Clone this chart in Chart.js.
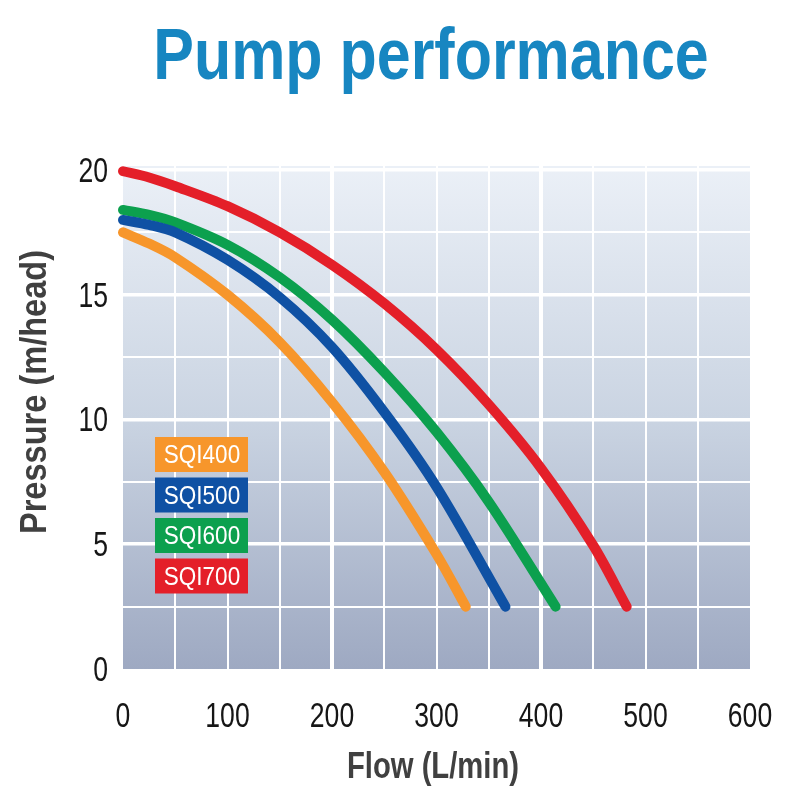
<!DOCTYPE html>
<html>
<head>
<meta charset="utf-8">
<script src="https://cdn.jsdelivr.net/npm/chart.js@4"></script>
<style>
  body { margin: 0; background: #fff; }
  #wrap { width: 800px; height: 800px; position: relative; }
</style>
</head>
<body>
<div id="wrap"><canvas id="chartPump"></canvas></div>
<script>
const models = ['SQI400', 'SQI500', 'SQI600', 'SQI700'];
const colors = ['#f7962b', '#0f51a4', '#0ca04e', '#e41f29'];

const flow400 = [0, 25, 50, 100, 150, 200, 250, 300, 328];
const head400 = [17.5, 17.05, 16.5, 15.0, 13.1, 10.7, 7.9, 4.6, 2.5];
const flow500 = [0, 25, 50, 100, 150, 200, 250, 300, 366];
const head500 = [18.0, 17.8, 17.5, 16.4, 14.9, 12.9, 10.3, 7.3, 2.5];
const flow600 = [0, 25, 50, 100, 150, 200, 250, 300, 350, 414];
const head600 = [18.4, 18.2, 17.9, 17.0, 15.7, 14.0, 11.9, 9.5, 6.7, 2.5];
const flow700 = [0, 25, 50, 100, 150, 200, 250, 300, 350, 400, 450, 482];
const head700 = [19.95, 19.7, 19.35, 18.55, 17.5, 16.2, 14.65, 12.8, 10.6, 8.05, 4.95, 2.5];

const xGrid = [0, 50, 100, 150, 200, 250, 300, 350, 400, 450, 500, 550, 600];
const yGrid = [0, 2.5, 5, 7.5, 10, 12.5, 15, 17.5, 20];
const xLabels = [0, 100, 200, 300, 400, 500, 600];
const yLabels = [0, 5, 10, 15, 20];

const titleText = 'Pump performance';
const xTitle = 'Flow (L/min)';
const yTitle = 'Pressure (m/head)';

const sans = "'Liberation Sans', Arial, sans-serif";

function pts(xs, ys) {
    return xs.map((x, i) => ({ x: x, y: ys[i] }));
}

const series = [pts(flow400, head400), pts(flow500, head500), pts(flow600, head600), pts(flow700, head700)];

// condensed look: draw Liberation Sans squeezed horizontally
function narrowText(ctx, text, x, y, o) {
    ctx.save();
    ctx.translate(x, y);
    if (o.rot) ctx.rotate(o.rot);
    ctx.scale(o.sx, 1);
    ctx.font = o.font;
    ctx.fillStyle = o.color;
    ctx.textAlign = o.align || 'center';
    ctx.textBaseline = 'alphabetic';
    ctx.fillText(text, 0, 0);
    ctx.restore();
}

const bgPlugin = {
    id: 'bgGradient',
    beforeDraw(chart) {
        const { ctx, chartArea: a } = chart;
        let g = ctx.createLinearGradient(0, a.top, 0, a.bottom);
        g.addColorStop(0, '#ebf0f7');
        g.addColorStop(0.5, '#cad4e2');
        g.addColorStop(1, '#9ea9c2');
        ctx.save();
        ctx.fillStyle = g;
        ctx.fillRect(a.left, a.top, a.right - a.left, a.bottom - a.top);
        ctx.restore();
    }
};

// labels, titles and the boxed legend
const textPlugin = {
    id: 'textLayer',
    afterDraw(chart) {
        const ctx = chart.ctx;
        const xs = chart.scales.x, ys = chart.scales.y;

        narrowText(ctx, titleText, 431, 79, { font: 'bold 73px ' + sans, color: '#1786c1', sx: 0.835 });

        xLabels.forEach(v => {
            narrowText(ctx, String(v), xs.getPixelForValue(v), 727, { font: '35px ' + sans, color: '#161616', sx: 0.76 });
        });
        yLabels.forEach(v => {
            narrowText(ctx, String(v), 108, ys.getPixelForValue(v) + 12, { font: '35px ' + sans, color: '#161616', sx: 0.76, align: 'right' });
        });

        narrowText(ctx, xTitle, 433, 778, { font: 'bold 37px ' + sans, color: '#404040', sx: 0.79 });
        narrowText(ctx, yTitle, 46, 392, { font: 'bold 37px ' + sans, color: '#404040', sx: 0.88, rot: -Math.PI / 2 });

        chart.data.datasets.forEach((ds, i) => {
            let x = 155, y = 437 + i * 40.5;
            ctx.fillStyle = ds.borderColor;
            ctx.fillRect(x, y, 93, 35);
            narrowText(ctx, ds.label, x + 47, y + 26, { font: '25px ' + sans, color: '#ffffff', sx: 0.9 });
        });
    }
};

new Chart(document.getElementById('chartPump'), {
    type: 'line',
    data: {
        datasets: series.map((d, i) => ({
            label: models[i],
            data: d,
            borderColor: colors[i],
            borderWidth: 10,
            borderCapStyle: 'round',
            borderJoinStyle: 'round',
            tension: 0.33,
            pointRadius: 0,
            fill: false,
            clip: false
        }))
    },
    options: {
        responsive: true,
        maintainAspectRatio: false,
        animation: false,
        layout: { padding: { left: 0, right: 50, top: 166, bottom: 0 } },
        plugins: {
            legend: { display: false },
            tooltip: { enabled: false },
            title: { display: false }
        },
        scales: {
            x: {
                type: 'linear',
                min: 0,
                max: 600,
                afterBuildTicks: s => { s.ticks = xGrid.map(v => ({ value: v })); },
                afterFit: s => { s.height = 131; },
                border: { display: false },
                grid: {
                    color: '#ffffff',
                    drawTicks: false,
                    lineWidth: c => (c.tick.value === 0 || c.tick.value === 600) ? 0 : (c.tick.value % 200 === 0 ? 4 : 2)
                },
                ticks: { display: false }
            },
            y: {
                type: 'linear',
                min: 0,
                max: 20.16,
                afterBuildTicks: s => { s.ticks = yGrid.map(v => ({ value: v })); },
                afterFit: s => { s.width = 123; },
                border: { display: false },
                grid: {
                    color: '#ffffff',
                    drawTicks: false,
                    lineWidth: c => c.tick.value === 0 ? 0 : (c.tick.value % 5 === 0 ? 3.5 : 2)
                },
                ticks: { display: false }
            }
        }
    },
    plugins: [bgPlugin, textPlugin]
});
</script>
</body>
</html>
